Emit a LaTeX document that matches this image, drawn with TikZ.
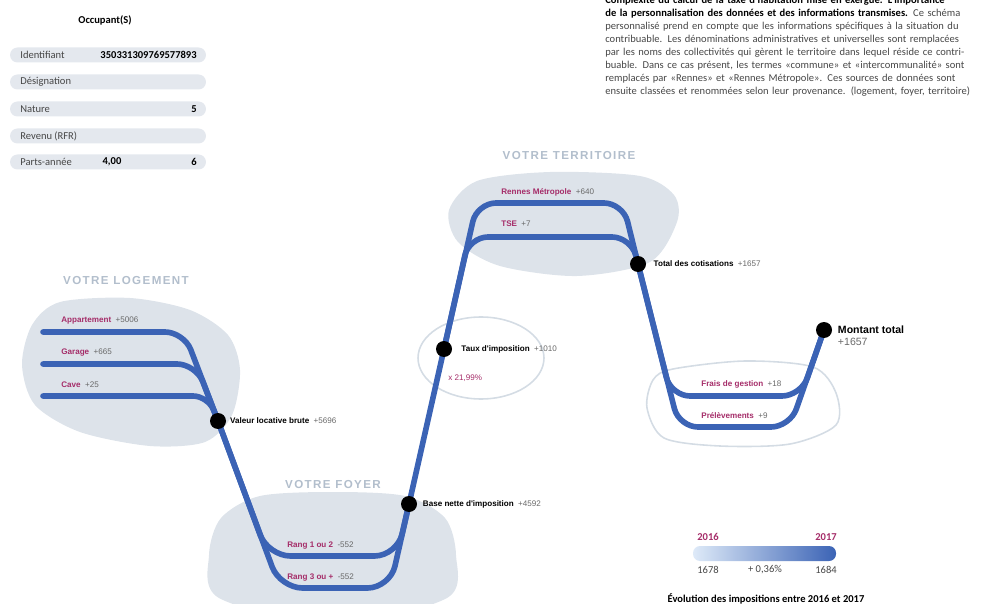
\documentclass[tikz,border=0pt]{standalone}
\usepackage{fontspec}
\setmainfont{Carlito}
\newfontfamily\arialfont{Liberation Sans}
\newfontfamily\headfont[LetterSpace=12]{Liberation Sans}
\usetikzlibrary{positioning}
\definecolor{flowblue}{RGB}{59,99,181}
\definecolor{blobgray}{RGB}{221,227,234}
\definecolor{ringgray}{RGB}{212,220,228}
\definecolor{labelmag}{RGB}{165,45,105}
\definecolor{valgray}{RGB}{105,105,105}
\definecolor{headgray}{RGB}{178,190,204}
\definecolor{pillgray}{RGB}{228,232,238}
\definecolor{textgray}{RGB}{70,70,70}
\definecolor{barlight}{RGB}{222,234,248}
\pgfdeclarelayer{front}
\pgfsetlayers{main,front}
\tikzstyle{flow} = [draw=flowblue, line width=3.2pt, line cap=round,
                    rounded corners=0.38cm]
\tikzstyle{dot} = [circle, fill=black, minimum size=0.32cm, inner sep=0pt]
\tikzstyle{flowlbl} = [anchor=west, inner sep=0pt, text=labelmag,
                    font=\arialfont\bfseries\fontsize{4.6}{5}\selectfont]
\tikzstyle{dotlbl} = [inner sep=0pt, text=black,
                    font=\arialfont\bfseries\fontsize{4.6}{5}\selectfont]
\tikzstyle{rowlbl} = [anchor=west, inner sep=0pt, text=textgray,
                    font=\fontsize{6}{7}\selectfont]
\tikzstyle{rowval} = [inner sep=0pt, font=\bfseries\fontsize{6}{7}\selectfont]
\newcommand{\val}[1]{\hspace{2.5pt}\textcolor{valgray}{\mdseries #1}}
\newcommand{\jline}[1]{\makebox[7.86cm][s]{#1}}

\begin{document}
\begin{tikzpicture}[x=0.02cm, y=-0.02cm,
zone/.style={text=headgray, font=\headfont\bfseries\fontsize{6.6}{8}\selectfont},
ring/.style={draw=ringgray, line width=0.9pt},
blob/.style={fill=blobgray}]
\clip (0,0) rectangle (1000,604);

%Occupant panel
\node[rowval] (occ) at (105,20) {Occupant(S)};
\foreach \y/\txt in {55/Identifiant,82/Désignation,109/Nature,136/Revenu (RFR),162/Parts-année}{
  \fill[pillgray, rounded corners=0.15cm] (10,\y-7.5) rectangle (206,\y+7.5);
  \node[rowlbl] (row\y) at (20,\y) {\txt};
}
\node[rowval, anchor=east] (ident) at (197,55) {350331309769577893};
\node[rowval, anchor=east] (nature) at (197,109) {5};
\node[rowval] (parts) at (112,162) {4,00};
\node[rowval, anchor=east] (annee) at (197,162) {6};

%Intro text
\node[anchor=north west, inner sep=0pt, text width=7.86cm, text=textgray,
      font=\fontsize{6}{7.45}\selectfont] (intro) at (605,-5) {%
\jline{\textcolor{black}{\bfseries Complexité du calcul de la taxe d'habitation mise en exergue. L'importance}}\\
\jline{\textcolor{black}{\bfseries de la personnalisation des données et des informations transmises.} Ce schéma}\\
\jline{personnalisé prend en compte que les informations spécifiques à la situation du}\\
\jline{contribuable. Les dénominations administratives et universelles sont remplacées}\\
\jline{par les noms des collectivités qui gèrent le territoire dans lequel réside ce contri-}\\
\jline{buable. Dans ce cas présent, les termes «commune» et «intercommunalité» sont}\\
\jline{remplacés par «Rennes» et «Rennes Métropole». Ces sources de données sont}\\
\jline{ensuite classées et renommées selon leur provenance. (logement, foyer, territoire)}};

% Zones
\fill[blob] plot[smooth cycle] coordinates {(60,302) (130,298) (190,310) (228,335)
  (240,370) (232,415) (205,442) (150,446) (80,432) (35,405) (22,365) (32,325)};
\fill[blob] plot[smooth cycle] coordinates {(260,496) (333,492) (405,496) (445,518)
  (456,555) (447,598) (333,625) (219,598) (209,555) (221,518)};
\fill[blob] plot[smooth cycle] coordinates {(477,181) (550,172) (640,176) (674,195)
  (677,222) (650,262) (577,276) (500,266) (458,242) (449,210)};
\draw[ring] (481,358) ellipse [x radius=1.26cm, y radius=0.82cm];
\draw[ring] plot[smooth cycle] coordinates {(673,369) (745,361) (813,367) (836,393)
  (836,425) (790,444) (720,446) (664,438) (647,408) (653,380)};

\node[zone] (logement) at (126,281) {VOTRE LOGEMENT};
\node[zone] (foyer) at (333,485) {VOTRE FOYER};
\node[zone] (territoire) at (569,156) {VOTRE TERRITOIRE};

% Dots
\begin{pgfonlayer}{front}
\node[dot] (valeur) at (218,421) {};
\node[dot] (base) at (409,504) {};
\node[dot] (taux) at (444,349) {};
\node[dot] (total) at (638,264) {};
\node[dot] (montant) at (824,330) {};
\end{pgfonlayer}

% Logement
\coordinate (app) at (43,332);
\coordinate (gar) at (43,364);
\coordinate (cave) at (43,396);
\draw[flow] (app) -- (184,332) -- (valeur.center);
\draw[flow] (gar) -- (196,364) -- (valeur.center);
\draw[flow, rounded corners=0.3cm] (cave) -- (208,396) -- (valeur.center);

% Foyer
\draw[flow, rounded corners=0.45cm] (valeur.center) -- (280,588) -- (390,588) -- (base.center);
\draw[flow, rounded corners=0.45cm] (valeur.center) -- (268,556) -- (397,556) -- (base.center);
\draw[flow] (base.center) -- (taux.center);

% Territoire
\draw[flow] (taux.center) -- (477,203) -- (623,203) -- (total.center);
\draw[flow] (taux.center) -- (469,237) -- (631,237) -- (total.center);

% Frais
\draw[flow] (total.center) -- (679,427) -- (790,427) -- (montant.center);
\draw[flow] (total.center) -- (671,396) -- (801,396) -- (montant.center);

% Labels
\node[flowlbl] (lapp) at (61,321) {Appartement\val{+5006}};
\node[flowlbl] (lgar) at (61,353) {Garage\val{+665}};
\node[flowlbl] (lcave) at (61,385) {Cave\val{+25}};
\node[flowlbl] (lrang1) at (287,546) {Rang 1 ou 2\val{-552}};
\node[flowlbl] (lrang3) at (287,578) {Rang 3 ou +\val{-552}};
\node[flowlbl] (lrennes) at (501,192) {Rennes Métropole\val{+640}};
\node[flowlbl] (ltse) at (501,224) {TSE\val{+7}};
\node[flowlbl] (lfrais) at (701,384) {Frais de gestion\val{+18}};
\node[flowlbl] (lprel) at (701,416) {Prélèvements\val{+9}};
\node[flowlbl, font=\arialfont\fontsize{4.6}{5}\selectfont] (ltaux) at (448,378) {x 21,99\%};

\node[dotlbl, right=2pt of valeur] (lvaleur) {Valeur locative brute\val{+5696}};
\node[dotlbl, right=3pt of base] (lbase) {Base nette d'imposition\val{+4592}};
\node[dotlbl, right=5pt of taux] (ltauxv) {Taux d'imposition\val{+1010}};
\node[dotlbl, right=4pt of total] (ltotal) {Total des cotisations\val{+1657}};
\node[dotlbl, right=3pt of montant, font=\arialfont\bfseries\fontsize{6}{7}\selectfont] (lmontant) {Montant total};
\node[inner sep=0pt, anchor=north west, text=valgray, font=\arialfont\fontsize{6}{7}\selectfont]
  (lmontantv) at ([yshift=-2pt]lmontant.south west) {+1657};

% Evolution
\shade[left color=barlight, right color=flowblue, rounded corners=0.14cm] (693,546) rectangle (836,561);
\node[rowval, text=labelmag] (y2016) at (708,537) {2016};
\node[rowval, text=labelmag] (y2017) at (826,537) {2017};
\node[rowlbl, anchor=center] (v2016) at (708,570) {1678};
\node[rowlbl, anchor=center] (vdiff) at (765,570) {+ 0,36\%};
\node[rowlbl, anchor=center] (v2017) at (826,570) {1684};
\node[rowval] (evol) at (766,599) {Évolution des impositions entre 2016 et 2017};
\end{tikzpicture}
\end{document}
